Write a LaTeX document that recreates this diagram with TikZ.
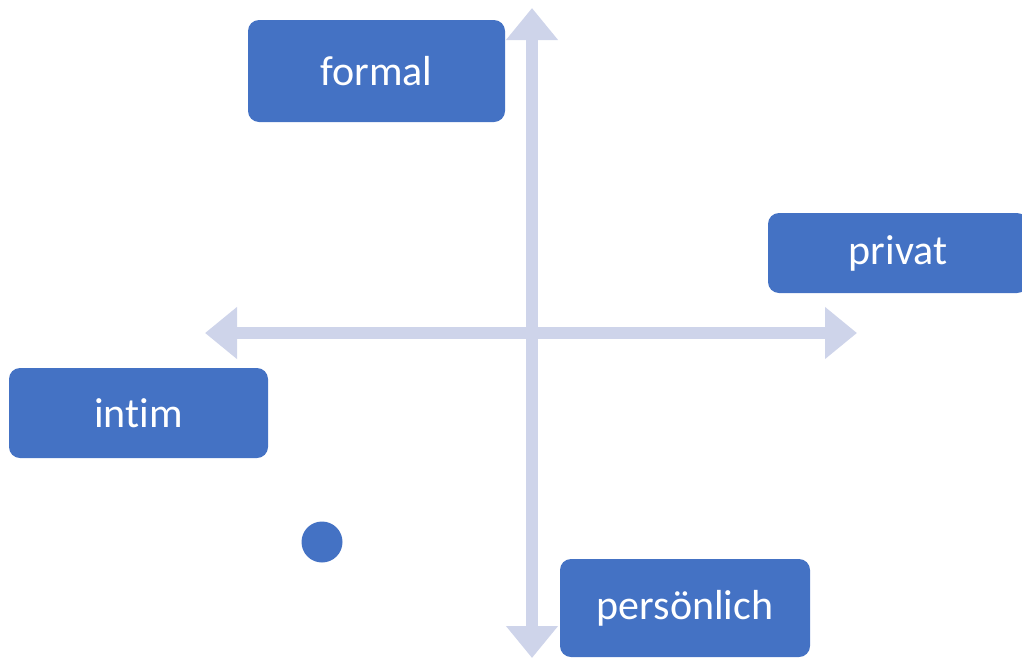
\documentclass[tikz,border=0pt]{standalone}
\usepackage{fontspec}
\setmainfont{Carlito}[RawFeature={-liga;-dlig}]
\usetikzlibrary{arrows.meta}
\definecolor{boxblue}{HTML}{4472C4}
\definecolor{axiscol}{HTML}{CED4EA}
\begin{document}
\begin{tikzpicture}[x=1pt,y=-1pt,
  labelbox/.style={fill=boxblue, draw=none, rounded corners=11pt, text=white,
    font=\fontsize{42}{50}\selectfont, inner sep=0pt},
  axisarrow/.style={draw=axiscol, line width=12pt,
    {Triangle[width=50pt,length=32pt]}-{Triangle[width=50pt,length=32pt]}}]
\useasboundingbox (0,0) rectangle (1022,659);
% axes
\coordinate (up) at (532,8);
\coordinate (down) at (532,658);
\coordinate (left) at (205,333);
\coordinate (right) at (857,333);
\draw[axisarrow] (left) -- (right);
\draw[axisarrow] (down) -- (up);
% boxes
\node[labelbox, minimum width=257pt, minimum height=102pt] (formal) at (376.5,71) {formal};
\node[labelbox, minimum width=260pt, minimum height=80pt] (privat) at (898,253) {privat};
\node[labelbox, minimum width=259pt, minimum height=90pt] (intim) at (138.5,413) {intim};
\node[labelbox, minimum width=250pt, minimum height=98pt] (pers) at (685,608) {persönlich};
% dot
\node[circle, fill=boxblue, minimum size=41pt, inner sep=0pt] (dot) at (322,542) {};
\end{tikzpicture}
\end{document}
